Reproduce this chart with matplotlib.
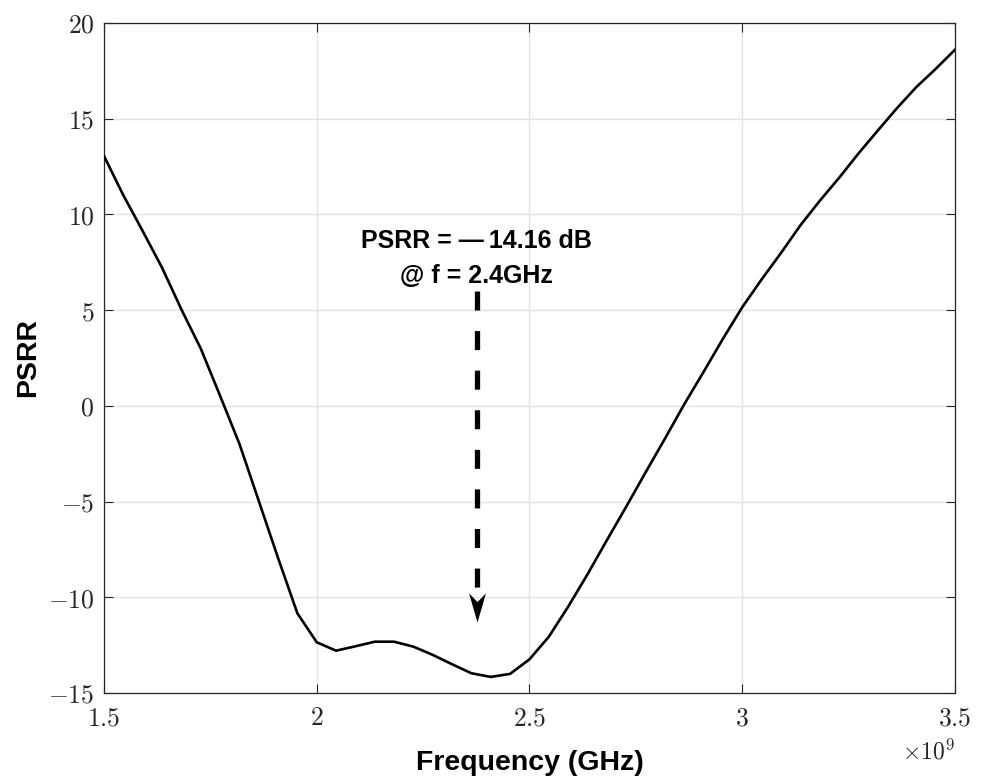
import numpy as np
import matplotlib
matplotlib.use("Agg")
import matplotlib.pyplot as plt
from matplotlib.path import Path
from matplotlib.ticker import FixedLocator, FuncFormatter

# ---- data (frequency in GHz, PSRR in dB) ----
freq_ghz = np.linspace(1.5, 3.5, 45)
psrr_db = [13.05, 11.0, 9.13, 7.22, 5.04, 3.0, 0.53, -1.98, -4.96, -7.95,
           -10.84, -12.35, -12.79, -12.56, -12.32, -12.32, -12.58, -13.01, -13.5, -13.97,
           -14.16, -14.0, -13.24, -12.06, -10.49, -8.8, -7.02, -5.27, -3.48, -1.72,
           0.08, 1.77, 3.5, 5.15, 6.6, 7.98, 9.42, 10.7, 11.9, 13.17,
           14.37, 15.55, 16.65, 17.6, 18.6]
xticks_ghz = [1.5, 2, 2.5, 3, 3.5]
xtick_labels = ["1.5", "2", "2.5", "3", "3.5"]
yticks = [-15, -10, -5, 0, 5, 10, 15, 20]
annot_line1 = "PSRR = \u2014\u200914.16 dB"
annot_line2 = "@ f = 2.4GHz"
arrow_x_ghz = 2.376
arrow_from_db = 6.0
arrow_to_db = -11.3

plt.rcParams['mathtext.fontset'] = 'cm'
fig = plt.figure(figsize=(9.84, 7.79), dpi=100)
ax = fig.add_axes([0.1057, 0.1104, 0.8648, 0.8601])

x_hz = np.asarray(freq_ghz) * 1e9
ax.plot(x_hz, psrr_db, color='black', lw=1.9, zorder=3)

ax.set_xlim(1.5e9, 3.5e9)
ax.set_ylim(-15, 20)
ax.xaxis.set_major_locator(FixedLocator([v * 1e9 for v in xticks_ghz]))
ax.set_xticklabels(["$" + s + "$" for s in xtick_labels])
ax.yaxis.set_major_locator(FixedLocator(yticks))
ax.yaxis.set_major_formatter(FuncFormatter(lambda v, p: "$%d$" % v))

ax.grid(True, color='#e3e3e3', lw=1.0, zorder=0)
ax.set_axisbelow(True)
ax.tick_params(direction='in', length=6.5, width=0.8, color='#262626',
               labelsize=18.5, top=True, right=True, labelcolor='#262626')
ax.tick_params(axis='x', pad=9)
ax.tick_params(axis='y', pad=7)
for sp in ax.spines.values():
    sp.set_color('#262626')
    sp.set_linewidth(0.9)

sans = ['Liberation Sans', 'DejaVu Sans']
ax.set_xlabel("Frequency (GHz)", fontsize=20.5, fontweight='bold',
              family=sans, va='center')
ax.xaxis.set_label_coords(0.5, -0.105)
ax.set_ylabel("PSRR", fontsize=20.5, fontweight='bold',
              family=sans, va='center')
ax.yaxis.set_label_coords(-0.0893, 0.5)

ax.text(1.0, -0.088, r"$\times10^{9}$", transform=ax.transAxes,
        ha='right', va='center', fontsize=17, color='#262626')

# annotation text (two lines, baselines placed separately)
ax.text(arrow_x_ghz * 1e9, 8.24, annot_line1, ha='center', va='baseline',
        fontsize=18, fontweight='bold', family=sans, zorder=5)
ax.text(arrow_x_ghz * 1e9, 6.42, annot_line2, ha='center', va='baseline',
        fontsize=18, fontweight='bold', family=sans, zorder=5)

# dashed arrow shaft
ax.plot([arrow_x_ghz * 1e9, arrow_x_ghz * 1e9], [arrow_from_db, arrow_to_db + 1.2],
        color='black', lw=3.8, dashes=(3.6, 3.9), solid_capstyle='butt',
        dash_capstyle='butt', zorder=4)
# arrowhead marker (concave back)
head = Path([(0, 0), (-0.29, 1.0), (0, 0.7), (0.29, 1.0), (0, 0)],
            [Path.MOVETO, Path.LINETO, Path.LINETO, Path.LINETO, Path.CLOSEPOLY])
ax.plot([arrow_x_ghz * 1e9], [arrow_to_db], marker=head, markersize=42,
        color='black', markeredgewidth=0, zorder=5)

fig.savefig("out.png", dpi=100)
